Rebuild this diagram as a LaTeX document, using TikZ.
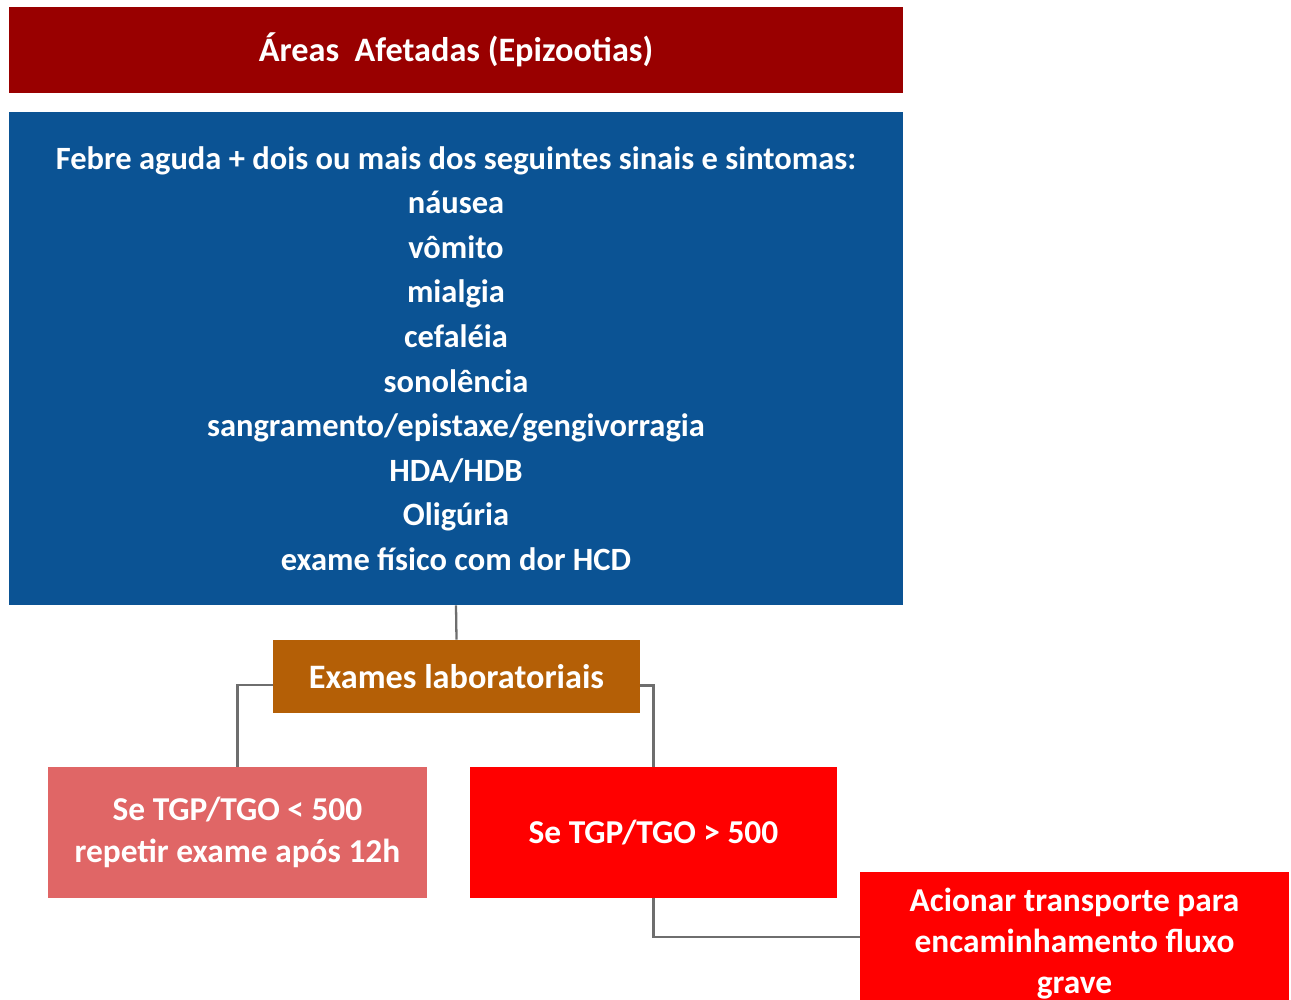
\documentclass[tikz,border=0pt]{standalone}
\usepackage{fontspec}
\setmainfont{Carlito}
\definecolor{headred}{HTML}{990000}
\definecolor{boxblue}{HTML}{0B5394}
\definecolor{laborange}{HTML}{B45F06}
\definecolor{lowpink}{HTML}{E06666}
\definecolor{highred}{HTML}{FF0000}
\definecolor{linkgray}{HTML}{6E6E6E}

\begin{document}
\begin{tikzpicture}[x=0.02cm,y=-0.02cm,
   box/.style={text=white,align=center,inner sep=0pt},
   link/.style={draw=linkgray,line width=1.3pt}]
   \clip (0,0) rectangle (1291,1000);
   \node[box,fill=headred,minimum width=17.88cm,minimum height=1.72cm,
      font=\bfseries\fontsize{19.5}{24}\selectfont] (areas) at (456,50)
      {Áreas\ \ Afetadas (Epizootias)};
   \node[box,fill=boxblue,minimum width=17.88cm,minimum height=9.86cm,
      font=\bfseries\fontsize{18.5}{25.35}\selectfont] (sinais) at (456,358.5)
      {Febre aguda + dois ou mais dos seguintes sinais e sintomas:\\
       náusea\\ vômito\\ mialgia\\ cefaléia\\ sonolência\\
       sangramento/epistaxe/gengivorragia\\ HDA/HDB\\ Oligúria\\ exame físico com dor HCD};
   \node[box,fill=laborange,minimum width=7.34cm,minimum height=1.46cm,
      font=\bfseries\fontsize{19.5}{24}\selectfont] (exames) at (456.5,676.5)
      {Exames laboratoriais};
   \node[box,fill=lowpink,minimum width=7.58cm,minimum height=2.62cm,
      font=\bfseries\fontsize{19}{23.8}\selectfont] (baixo) at (237.5,832.5)
      {Se TGP/TGO < 500\\ repetir exame após 12h};
   \node[box,fill=highred,minimum width=7.34cm,minimum height=2.62cm,
      font=\bfseries\fontsize{19}{24}\selectfont] (alto) at (653.5,832.5)
      {Se TGP/TGO > 500};
   \node[box,fill=highred,minimum width=8.58cm,minimum height=2.88cm,
      font=\bfseries\fontsize{19}{23.3}\selectfont] (acionar) at (1074.5,944)
      {Acionar transporte para\\ encaminhamento fluxo\\ grave};
   \draw[link] (sinais.south) -- (exames.north);
   \draw[link] ([yshift=-0.17cm]exames.west) -| (baixo.north);
   \draw[link] ([yshift=-0.18cm]exames.east) -| (alto.north);
   \draw[link] (alto.south) |- ([yshift=0.14cm]acionar.west);
\end{tikzpicture}
\end{document}
